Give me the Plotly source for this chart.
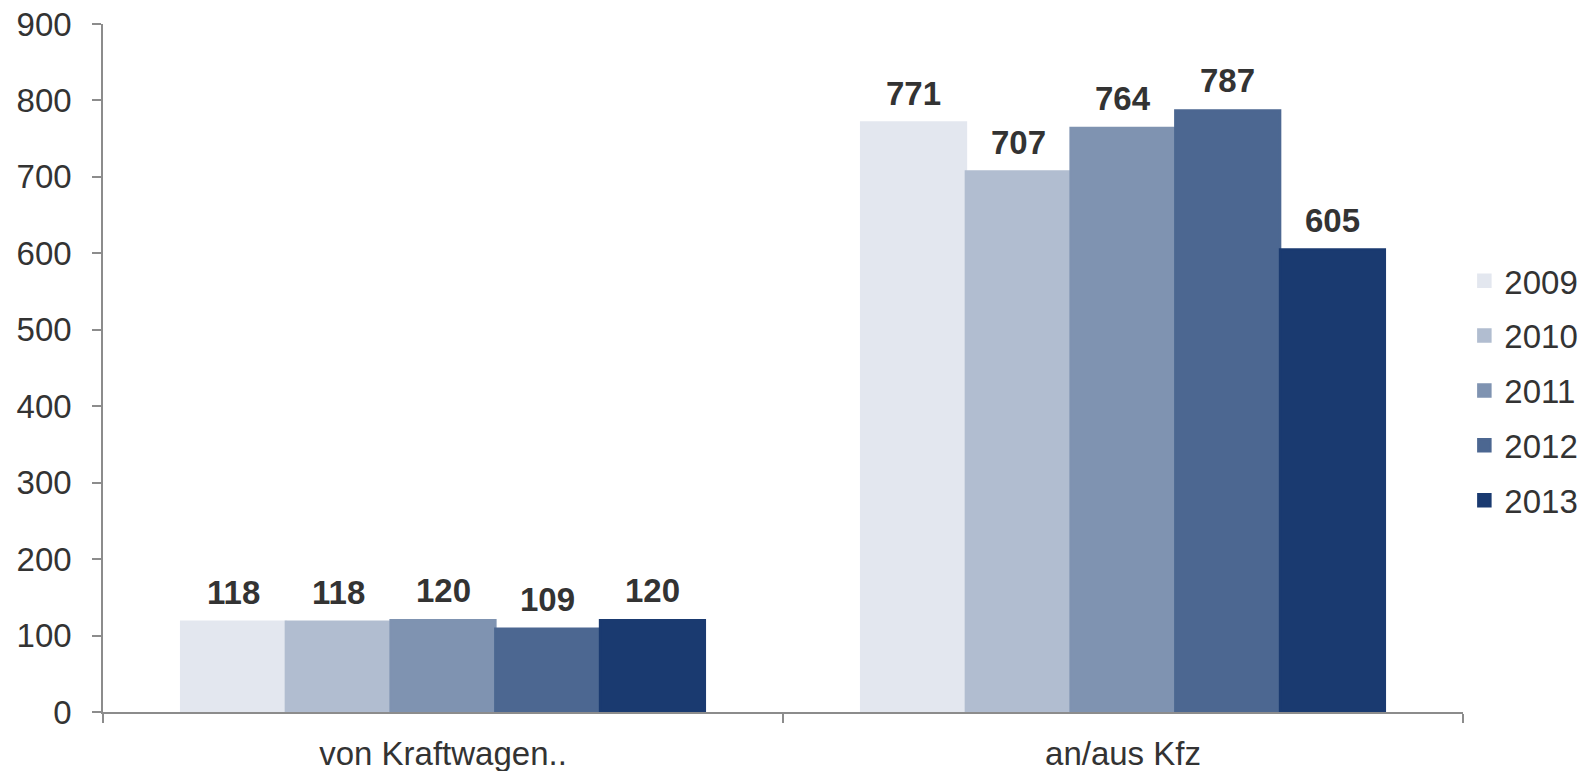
import plotly.graph_objects as go

categories = ["von Kraftwagen..", "an/aus Kfz"]
years = ["2009", "2010", "2011", "2012", "2013"]
values = {
    "2009": [118, 771],
    "2010": [118, 707],
    "2011": [120, 764],
    "2012": [109, 787],
    "2013": [120, 605],
}
colors = ["#E3E7EF", "#B1BDD0", "#7F93B1", "#4C6791", "#1A3A70"]
y_ticks = [0, 100, 200, 300, 400, 500, 600, 700, 800, 900]

FONT = "Liberation Sans, Arial, sans-serif"
bargap = 0.23

fig = go.Figure()
for j, yr in enumerate(years):
    fig.add_trace(go.Bar(
        name=yr, x=categories, y=values[yr],
        marker=dict(color=colors[j], line=dict(width=2.5, color=colors[j])),
        legendgroup=yr,
    ))

n = len(years)
bw = (1 - bargap) / n
annotations = []
for j, yr in enumerate(years):
    for i, v in enumerate(values[yr]):
        annotations.append(dict(
            x=i + (j - (n - 1) / 2) * bw, y=v, xref="x", yref="y",
            text=f"<b>{v}</b>", showarrow=False, yanchor="bottom",
            yshift=9, font=dict(family=FONT, size=33, color="#333333"),
        ))

fig.update_layout(
    width=1595, height=771,
    margin=dict(l=103, r=126, t=24, b=59),
    paper_bgcolor="white", plot_bgcolor="white",
    barmode="group", bargap=bargap, bargroupgap=0,
    font=dict(family=FONT, size=33, color="#333333"),
    showlegend=True,
    legend=dict(x=1.001, xanchor="left", y=0.467, yanchor="middle",
                font=dict(family=FONT, size=33, color="#333333"),
                tracegroupgap=9, itemwidth=30),
    annotations=annotations,
)
fig.update_xaxes(
    showline=True, linecolor="#8C8C8C", linewidth=1.5,
    ticks="outside", ticklen=9, tickcolor="#8C8C8C", tickwidth=1.5,
    tickson="boundaries", showgrid=False, ticklabelstandoff=12,
    automargin=False,
)
fig.update_yaxes(
    range=[0, 900], tickvals=y_ticks, showline=True, linecolor="#8C8C8C",
    linewidth=1.5, ticks="outside", ticklen=9, tickcolor="#8C8C8C",
    tickwidth=1.5, showgrid=False, zeroline=False, ticklabelstandoff=14,
    automargin=False,
)
fig.write_html(
    "out.html",
    config={"displayModeBar": False},
    post_script="document.body.style.margin='0';document.body.style.overflow='hidden';",
)
